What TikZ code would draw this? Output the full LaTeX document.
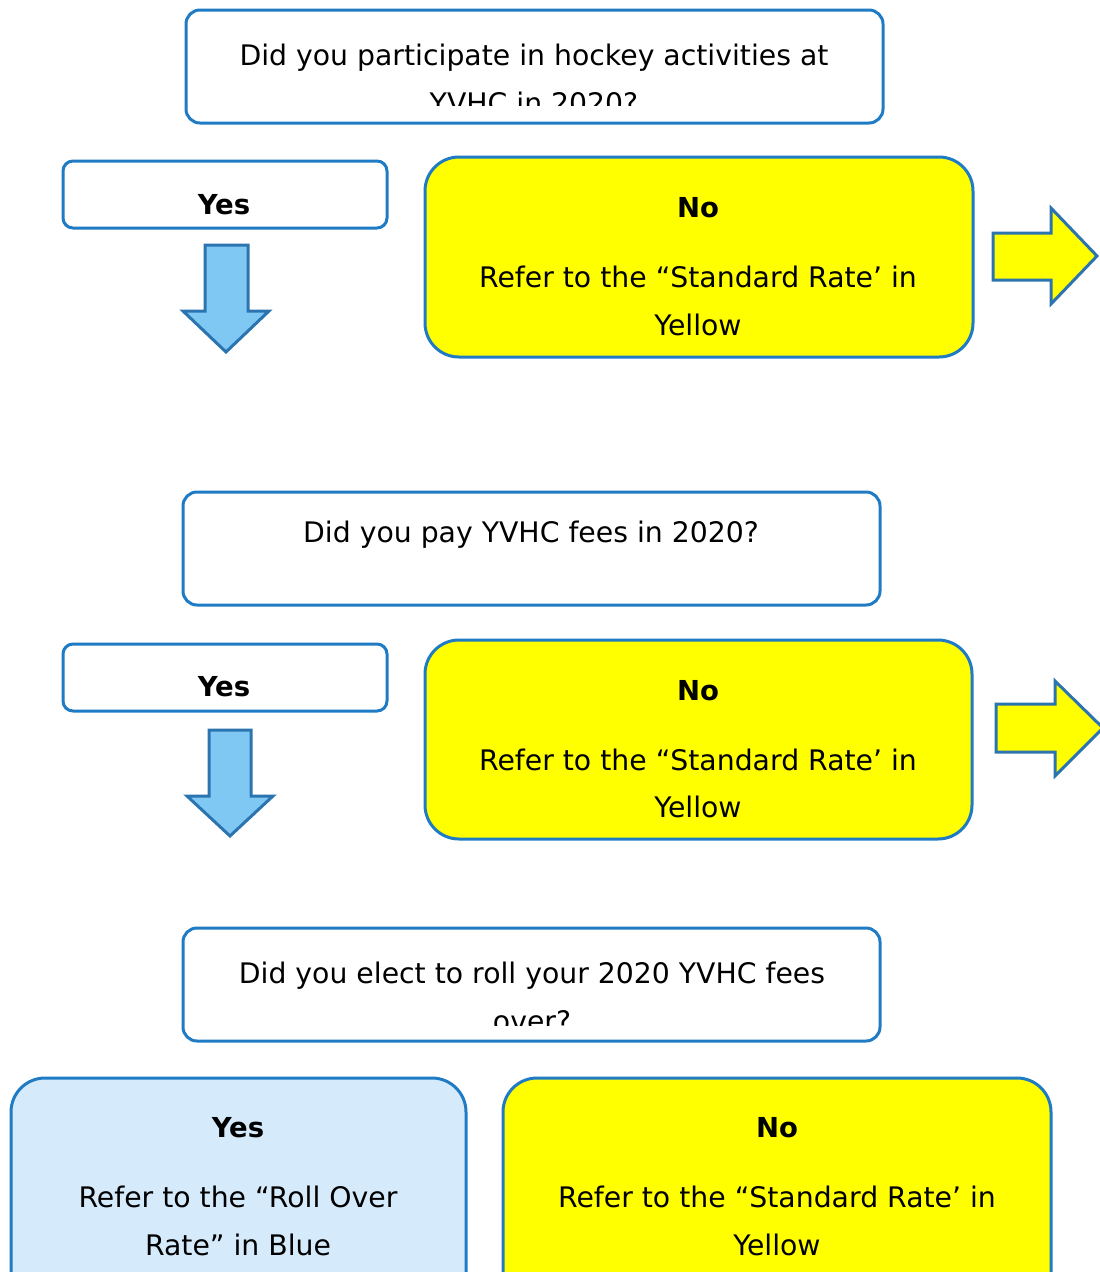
\documentclass[tikz,border=0pt]{standalone}
\usepackage{fontspec}
\setmainfont{DejaVu Sans}
\begin{document}
\begin{tikzpicture}[x=1pt,y=-1pt,
  boxline/.style={draw=boxblue, line width=3pt, rounded corners=14pt, inner sep=0pt},
  qbox/.style={boxline, fill=white},
  yesbox/.style={boxline, fill=white, rounded corners=10pt},
  nobox/.style={boxline, fill=pureyellow, rounded corners=34pt},
  rollbox/.style={boxline, fill=lightbox, rounded corners=34pt},
  txt/.style={anchor=base, inner sep=0pt, font=\fontsize{28.3}{28}\selectfont},
  btxt/.style={txt, font=\fontsize{27.5}{28}\selectfont\bfseries},
  yarrow/.style={draw=arrowline, line width=3pt, fill=pureyellow, line join=miter},
  barrow/.style={draw=arrowline, line width=3pt, fill=arrowfill, line join=miter}]
\definecolor{boxblue}{HTML}{1F7BC4}
\definecolor{arrowline}{HTML}{2C74B0}
\definecolor{arrowfill}{HTML}{80C8F4}
\definecolor{lightbox}{HTML}{D5EBFB}
\definecolor{pureyellow}{HTML}{FFFF00}
\useasboundingbox (0,0) rectangle (1100,1272);
\clip (0,0) rectangle (1100,1272);

% ---- question 1 ----
\node[qbox, minimum width=697pt, minimum height=113pt] (q1) at (534.5,66.5) {};
\begin{scope}
\clip (186,12) rectangle (883,105);
\node[txt] (q1a) at (534,65) {Did you participate in hockey activities at};
\node[txt] (q1b) at (534,113) {YVHC in 2020?};
\end{scope}
\node[yesbox, minimum width=324pt, minimum height=67pt] (y1) at (225,194.5) {};
\node[btxt] (y1t) at (224,214) {Yes};
\node[nobox, minimum width=548pt, minimum height=200pt] (n1) at (699,257) {};
\node[btxt] (n1t) at (698,217) {No};
\node[txt] (n1a) at (698,287) {Refer to the “Standard Rate’ in};
\node[txt] (n1b) at (698,335) {Yellow};
\draw[yarrow] (993,233) -- (1051,233) -- (1051,208) -- (1097,256) -- (1051,304) -- (1051,280) -- (993,280) -- cycle;
\draw[barrow] (205,245) -- (248,245) -- (248,311) -- (269,311) -- (226,352) -- (183,311) -- (205,311) -- cycle;

% ---- question 2 ----
\node[qbox, minimum width=697pt, minimum height=113pt] (q2) at (531.5,548.5) {};
\node[txt] (q2a) at (531,542) {Did you pay YVHC fees in 2020?};
\node[yesbox, minimum width=324pt, minimum height=67pt] (y2) at (225,677.5) {};
\node[btxt] (y2t) at (224,696) {Yes};
\node[nobox, minimum width=547pt, minimum height=199pt] (n2) at (698.5,739.5) {};
\node[btxt] (n2t) at (698,700) {No};
\node[txt] (n2a) at (698,770) {Refer to the “Standard Rate’ in};
\node[txt] (n2b) at (698,817) {Yellow};
\draw[yarrow] (996,704) -- (1055,704) -- (1055,681) -- (1103,728) -- (1055,776) -- (1055,752) -- (996,752) -- cycle;
\draw[barrow] (209,730) -- (251,730) -- (251,796) -- (273,796) -- (230,836) -- (187,796) -- (209,796) -- cycle;

% ---- question 3 ----
\node[qbox, minimum width=697pt, minimum height=113pt] (q3) at (531.5,984.5) {};
\begin{scope}
\clip (183,930) rectangle (880,1025);
\node[txt] (q3a) at (532,983) {Did you elect to roll your 2020 YVHC fees};
\node[txt] (q3b) at (532,1031) {over?};
\end{scope}
\node[rollbox, minimum width=455pt, minimum height=240pt] (y3) at (238.5,1198) {};
\node[btxt] (y3t) at (238,1137) {Yes};
\node[txt] (y3a) at (238,1207) {Refer to the “Roll Over};
\node[txt] (y3b) at (238,1255) {Rate” in Blue};
\node[nobox, minimum width=548pt, minimum height=240pt] (n3) at (777,1198) {};
\node[btxt] (n3t) at (777,1137) {No};
\node[txt] (n3a) at (777,1207) {Refer to the “Standard Rate’ in};
\node[txt] (n3b) at (777,1255) {Yellow};
\end{tikzpicture}
\end{document}
